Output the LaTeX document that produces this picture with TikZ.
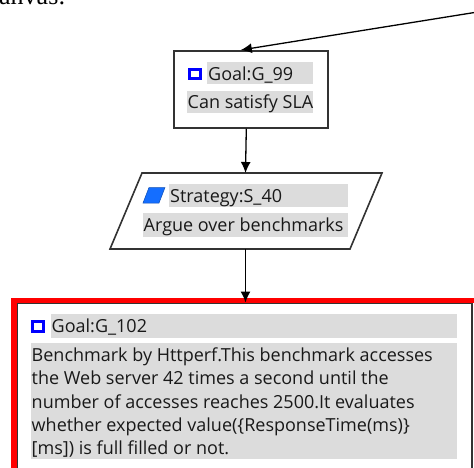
\documentclass[tikz,border=0pt]{standalone}
\usepackage{fontspec}
\setmainfont{Open Sans}
\newfontfamily\pagefont{Liberation Serif}
\usetikzlibrary{arrows.meta}
\definecolor{lblgray}{RGB}{220,220,220}
\definecolor{framegray}{RGB}{51,51,51}
\definecolor{txt}{RGB}{25,25,25}
\definecolor{iconblue}{RGB}{0,0,255}
\definecolor{stratblue}{RGB}{20,110,255}
\begin{document}
\begin{tikzpicture}[x=1pt,y=-1pt,
  font=\fontsize{18}{21}\selectfont,
  boxnode/.style={draw=framegray, line width=1.6pt, inner sep=0pt, anchor=north west},
  txtnode/.style={anchor=base west, inner sep=0pt, text=txt},
  conn/.style={draw=black, line width=1.3pt, -{Latex[length=11pt,width=10pt]}},
  goalicon/.style={draw=iconblue, line width=3pt},
]
\useasboundingbox (0,0) rectangle (474,468);
\clip (0,0) rectangle (474,468);

% partial page text
\node[anchor=base west, inner sep=0pt, font=\pagefont\fontsize{26}{30}\selectfont] (pagetxt) at (-1,5) {anvas:};

% ---- Goal G_99
\node[boxnode, minimum width=154pt, minimum height=77pt] (g99) at (173,50) {};
\draw[goalicon] (189,69.5) rectangle (200,78.5);
\fill[lblgray] (207,62) rectangle (313,84);
\node[txtnode] (g99t) at (208,80.5) {Goal:G\_99};
\fill[lblgray] (187,91) rectangle (313,113);
\node[txtnode] (g99d) at (187.5,109) {Can satisfy SLA};

% ---- Strategy S_40
\draw[draw=framegray, line width=1.6pt] (142,173) -- (382,173) -- (350,249) -- (110,249) -- cycle;
\coordinate (s40top) at (245.5,173);
\coordinate (s40bot) at (245.5,249);
\filldraw[fill=stratblue, draw=stratblue!70!black, line width=0.5pt] (149,187.5) -- (165,187.5) -- (159,203) -- (143,203) -- cycle;
\fill[lblgray] (169,184) rectangle (348,207);
\node[txtnode] (s40t) at (170,202.5) {Strategy:S\_40};
\fill[lblgray] (143,213) rectangle (348,237);
\node[txtnode] (s40d) at (143.5,231.5) {Argue over benchmarks};

% ---- Goal G_102 (selected)
\node[draw=red, line width=5.5pt, inner sep=0pt, anchor=north west, minimum width=500pt, minimum height=250pt] (sel) at (11,297.5) {};
\node[boxnode, minimum width=454.5pt, minimum height=250pt] (g102) at (16.5,302.5) {};
\draw[goalicon] (32.5,321.5) rectangle (43.5,331.5);
\fill[lblgray] (51,314) rectangle (457,338);
\node[txtnode] (g102t) at (51.5,332.5) {Goal:G\_102};
\fill[lblgray] (31,343) rectangle (457,459);
\node[txtnode] (l1) at (31.5,361.5) {Benchmark by Httperf.This benchmark accesses};
\node[txtnode] (l2) at (31.5,384.8) {the Web server 42 times a second until the};
\node[txtnode] (l3) at (31.5,408.1) {number of accesses reaches 2500.It evaluates};
\node[txtnode] (l4) at (31.5,431.4) {whether expected value(\{ResponseTime(ms)\}};
\node[txtnode] (l5) at (31.5,454.7) {[ms]) is full filled or not.};

% ---- connectors
\coordinate (ext) at (520,5.2);
\draw[conn] (ext) -- ([xshift=-10pt]g99.north);
\draw[conn] ([xshift=-4.5pt]g99.south) -- (s40top);
\draw[conn] (s40bot) -- (s40bot |- g102.north);
\end{tikzpicture}
\end{document}
